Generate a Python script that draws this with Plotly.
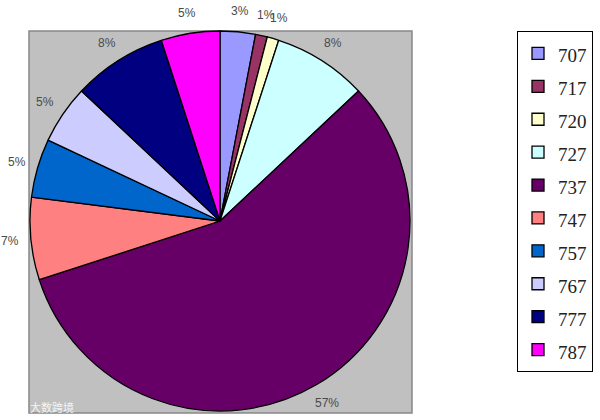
import math
import plotly.graph_objects as go

models = ["707", "717", "720", "727", "737", "747", "757", "767", "777", "787"]
shares = [3, 1, 1, 8, 57, 7, 5, 5, 8, 5]
colors = ["#9999FF", "#993366", "#FFFFCC", "#CCFFFF", "#660066",
          "#FF8080", "#0066CC", "#CCCCFF", "#000080", "#FF00FF"]

W, H = 600, 420
def px(x): return x / W
def py(y): return 1 - y / H

# pie geometry (pixels)
CX, CY, R = 220, 221, 190
LABEL_DIST = 211

legend_labels = ["<span style='font-size:19px'>%s</span>" % m for m in models]

fig = go.Figure()
fig.add_trace(go.Pie(
    labels=legend_labels,
    values=shares,
    sort=False,
    direction="clockwise",
    rotation=0,
    marker=dict(colors=colors, line=dict(color="#000000", width=1.3)),
    textinfo="none",
    domain=dict(x=[px(CX - R), px(CX + R)], y=[py(CY + R), py(CY - R)]),
    hoverinfo="label+percent",
))

# percentage labels placed outside each slice, at the slice's mid angle
total = float(sum(shares))
cum = 0.0
for v in shares:
    mid = (cum + v / 2.0) / total * 2 * math.pi
    cum += v
    lx = CX + LABEL_DIST * math.sin(mid)
    ly = CY - LABEL_DIST * math.cos(mid)
    fig.add_annotation(xref="paper", yref="paper", x=px(lx), y=py(ly),
                       xanchor="center", yanchor="middle", showarrow=False,
                       text="%d%%" % round(v / total * 100),
                       font=dict(family="Liberation Sans, Arial", size=12, color="#4A4A4A"))

fig.add_shape(type="rect", xref="paper", yref="paper",
              x0=px(29), x1=px(412), y0=py(413), y1=py(31),
              fillcolor="#C0C0C0", line=dict(color="#888888", width=1.5),
              layer="below")

fig.add_annotation(xref="paper", yref="paper", x=px(28), y=py(407),
                   xanchor="left", yanchor="middle", showarrow=False,
                   text="大数跨境",
                   font=dict(family="Noto Sans CJK SC", size=11, color="#F4F4F4"))

fig.update_layout(
    width=W, height=H,
    margin=dict(l=0, r=0, t=0, b=0, autoexpand=False),
    paper_bgcolor="#FFFFFF",
    showlegend=True,
    legend=dict(
        x=px(593), y=py(31), xanchor="right", yanchor="top",
        bordercolor="#000000", borderwidth=1, bgcolor="#FFFFFF",
        font=dict(family="Liberation Serif, Times New Roman, serif", size=23, color="#222222"),
        traceorder="normal",
    ),
)

fig.write_html("out.html", config={"displayModeBar": False},
               post_script="document.body.style.margin='0';document.body.style.padding='0';")
